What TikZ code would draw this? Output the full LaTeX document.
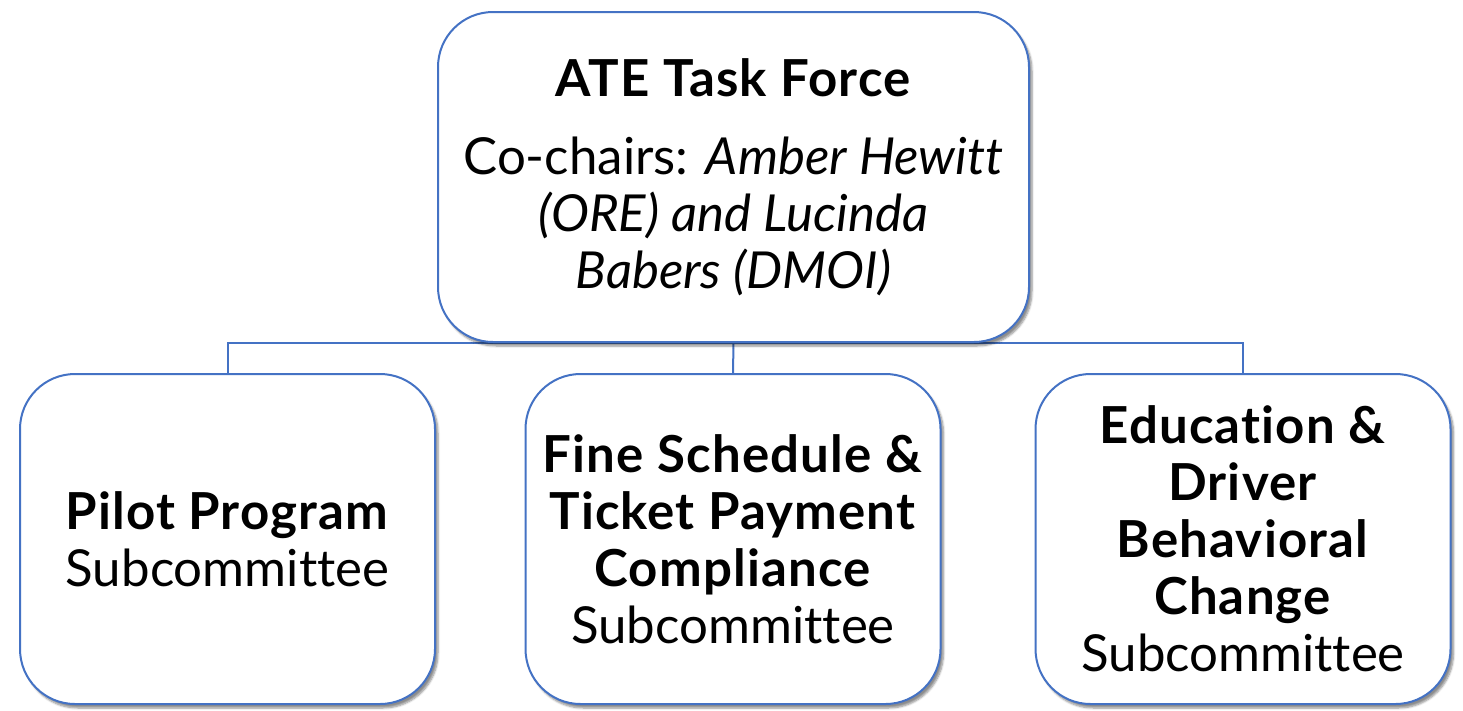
\documentclass[tikz,border=0pt]{standalone}
\usepackage{fontspec}
\setmainfont{Lato}[Ligatures=NoCommon, BoldFeatures={LetterSpace=2.2}]
\usetikzlibrary{shadows.blur,backgrounds}
\definecolor{boxblue}{RGB}{68,114,196}
\tikzset{
  orgbox/.style={draw=boxblue, line width=2pt, fill=white, rounded corners=55pt,
    blur shadow={shadow xshift=3pt, shadow yshift=-4pt, shadow blur steps=6, shadow opacity=45},
    align=center, font=\fontsize{51}{57}\selectfont, inner sep=0pt},
  link/.style={draw=boxblue, line width=2pt}
}
\begin{document}
\begin{tikzpicture}[x=1pt,y=-1pt]
\useasboundingbox (0,0) rectangle (1463,710);
\node[orgbox, minimum width=591pt, minimum height=330pt] (top) at (733.5,177)
  {\textbf{ATE Task Force}\\[21pt]
   Co-chairs: \textit{Amber Hewitt}\\
   \textit{(ORE) and Lucinda}\\
   \textit{Babers (DMOI)}};
\node[orgbox, minimum width=415pt, minimum height=330pt] (b1) at (227.5,539)
  {\textbf{Pilot Program}\\Subcommittee};
\node[orgbox, minimum width=415pt, minimum height=330pt] (b2) at (733,539)
  {\textbf{Fine Schedule \&}\\\textbf{Ticket Payment}\\\textbf{Compliance}\\Subcommittee};
\node[orgbox, minimum width=415pt, minimum height=330pt] (b3) at (1243,539)
  {\textbf{Education \&}\\\textbf{Driver}\\\textbf{Behavioral}\\\textbf{Change}\\Subcommittee};
\begin{scope}[on background layer]
\draw[link] (b1.north) -- (b1.north |- top.south) -- (b3.north |- top.south) -- (b3.north);
\draw[link] (top.south) -- (b2.north);
\end{scope}
\end{tikzpicture}
\end{document}
